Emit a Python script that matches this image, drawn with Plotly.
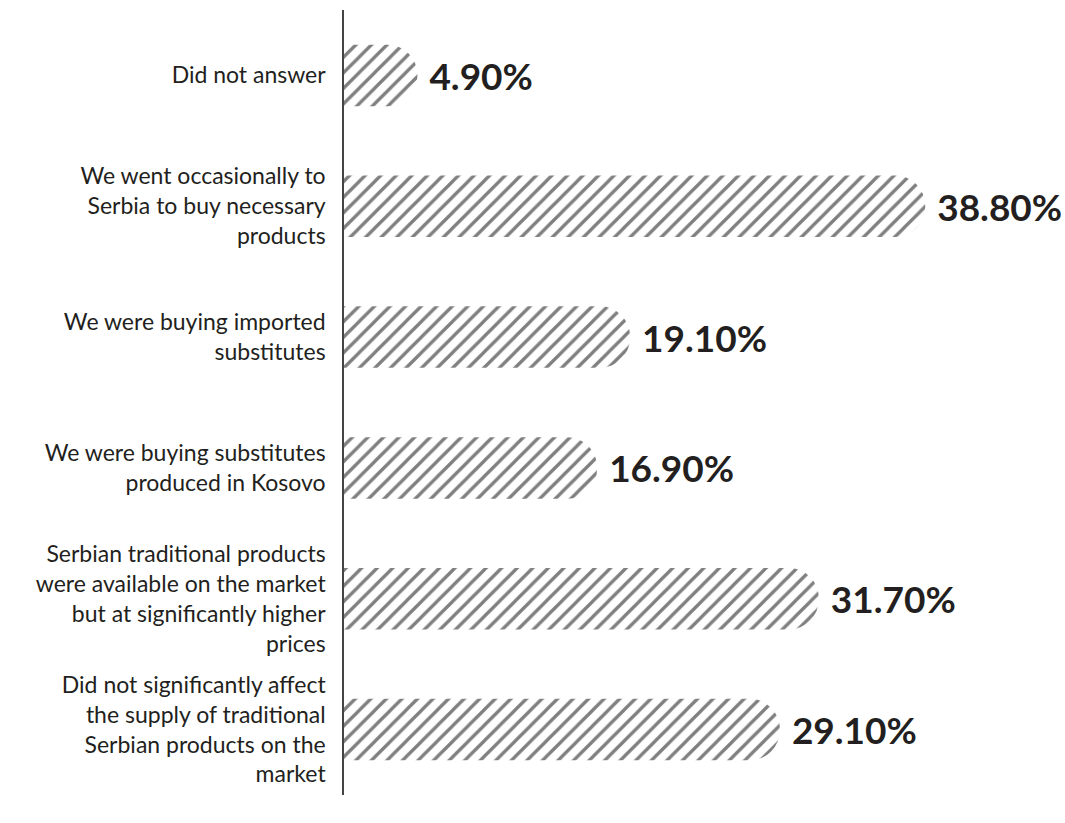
import plotly.graph_objects as go

categories = [
    "Did not answer",
    "We went occasionally to<br>Serbia to buy necessary<br>products",
    "We were buying imported<br>substitutes",
    "We were buying substitutes<br>produced in Kosovo",
    "Serbian traditional products<br>were available on the market<br>but at significantly higher<br>prices",
    "Did not significantly affect<br>the supply of traditional<br>Serbian products on the<br>market",
]
values = [4.9, 38.8, 19.1, 16.9, 31.7, 29.1]
labels = ["4.90%", "38.80%", "19.10%", "16.90%", "31.70%", "29.10%"]

fig = go.Figure(go.Bar(
    x=values,
    y=categories,
    orientation="h",
    text=labels,
    texttemplate=" %{text}",
    textposition="outside",
    cliponaxis=False,
    textfont=dict(family="Lato", size=37, color="#231f20", weight="bold"),
    marker=dict(
        color="white",
        line=dict(width=0),
        pattern=dict(shape="/", fgcolor="#000000", bgcolor="white", size=11, solidity=0.3),
    ),
))

fig.update_layout(
    width=1065, height=823,
    margin=dict(l=344, r=5, t=10, b=28),
    paper_bgcolor="white", plot_bgcolor="white",
    bargap=0.53,
    barcornerradius=30,
    showlegend=False,
    font=dict(family="Lato", color="#231f20"),
    xaxis=dict(range=[0, 47.8], visible=False, showgrid=False, zeroline=False),
    yaxis=dict(
        autorange="reversed",
        showline=True, linecolor="#444", linewidth=1.5,
        ticks="", showgrid=False, zeroline=False,
        tickfont=dict(family="Lato", size=23, color="#231f20"),
        ticklabelstandoff=12,
    ),
)

fig.write_html("out.html")
